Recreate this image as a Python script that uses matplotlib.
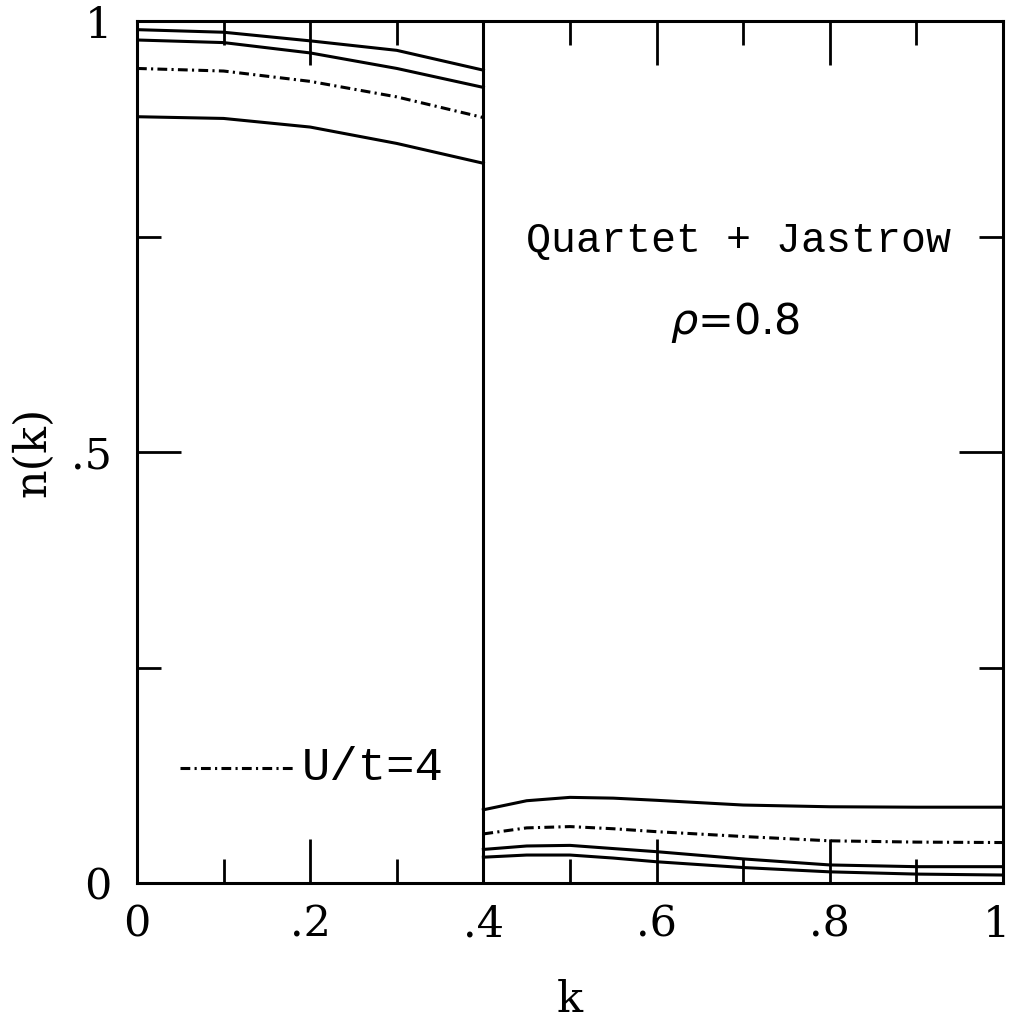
import numpy as np
import matplotlib.pyplot as plt
import matplotlib.transforms as mtransforms
from matplotlib.ticker import FixedLocator, FuncFormatter

# momentum grid, below and above k_F
k_F = 0.4
k_low = [0.0, 0.1, 0.2, 0.3, 0.4]
k_high = [0.4, 0.45, 0.5, 0.55, 0.6, 0.7, 0.8, 0.9, 1.0]

# n(k) below k_F (top to bottom)
n_low_1 = [0.990, 0.987, 0.977, 0.966, 0.943]
n_low_2 = [0.978, 0.975, 0.963, 0.945, 0.923]
n_low_u4 = [0.945, 0.942, 0.930, 0.912, 0.888]
n_low_4 = [0.889, 0.887, 0.877, 0.858, 0.835]

# n(k) above k_F (top to bottom)
n_high_1 = [0.085, 0.0955, 0.0994, 0.0985, 0.096, 0.0905, 0.0885, 0.088, 0.088]
n_high_u4 = [0.057, 0.064, 0.0655, 0.063, 0.0596, 0.054, 0.049, 0.0475, 0.047]
n_high_3 = [0.039, 0.043, 0.0437, 0.040, 0.0364, 0.028, 0.021, 0.019, 0.019]
n_high_4 = [0.030, 0.0325, 0.0325, 0.029, 0.0247, 0.018, 0.013, 0.0104, 0.0093]

fig = plt.figure(figsize=(10.14, 10.31), dpi=100)
ax = fig.add_axes([0.1351, 0.1435, 0.8540, 0.8361])

lw = 2.2
dd = [3.2, 1.4, 0.7, 1.4]
for n in (n_low_1, n_low_2, n_low_4):
    ax.plot(k_low, n, color='black', lw=lw)
ax.plot(k_low, n_low_u4, color='black', lw=lw, dashes=dd)
for n in (n_high_1, n_high_3, n_high_4):
    ax.plot(k_high, n, color='black', lw=lw)
ax.plot(k_high, n_high_u4, color='black', lw=lw, dashes=dd)
ax.axvline(k_F, color='black', lw=lw)

# legend line + label
ax.plot([0.05, 0.183], [0.1334, 0.1334], color='black', lw=lw, dashes=dd)
ax.text(0.19, 0.1334, 'U/t=4', family='Liberation Mono', fontsize=34,
        va='center', ha='left')

ax.text(0.695, 0.745, 'Quartet + Jastrow', family='Liberation Mono',
        fontsize=30, ha='center', va='center')
ax.text(0.69, 0.65, r'$\rho$=0.8', family='DejaVu Sans', fontsize=31,
        ha='center', va='center')

ax.set_xlim(0, 1)
ax.set_ylim(0, 1)

fmt = FuncFormatter(lambda v, p: '0' if v == 0 else ('1' if v == 1 else ('%.1f' % v).lstrip('0')))
ax.xaxis.set_major_locator(FixedLocator([0, 0.2, 0.4, 0.6, 0.8, 1.0]))
ax.xaxis.set_minor_locator(FixedLocator([0.1, 0.3, 0.5, 0.7, 0.9]))
ax.yaxis.set_major_locator(FixedLocator([0, 0.5, 1.0]))
ax.yaxis.set_minor_locator(FixedLocator([0.25, 0.75]))
ax.xaxis.set_major_formatter(fmt)
ax.yaxis.set_major_formatter(fmt)

ax.tick_params(which='both', direction='in', top=True, right=True, width=2.0)
ax.tick_params(which='major', length=32, labelsize=31)
ax.tick_params(axis='x', which='major', pad=15)
ax.tick_params(axis='y', which='major', pad=18)
ax.tick_params(which='minor', length=17)
for lab in ax.get_xticklabels() + ax.get_yticklabels():
    lab.set_family('DejaVu Serif')
# nudge the last x label so it stays inside the figure
last = ax.get_xticklabels()[-1]
last.set_transform(last.get_transform() +
                   mtransforms.ScaledTranslation(-5 / 72, 0, fig.dpi_scale_trans))
for s in ax.spines.values():
    s.set_linewidth(2.2)

ax.set_xlabel('k', family='DejaVu Serif', fontsize=31, labelpad=24)
ax.set_ylabel('n(k)', family='DejaVu Serif', fontsize=32, labelpad=12)

fig.savefig('out.png', dpi=100)
